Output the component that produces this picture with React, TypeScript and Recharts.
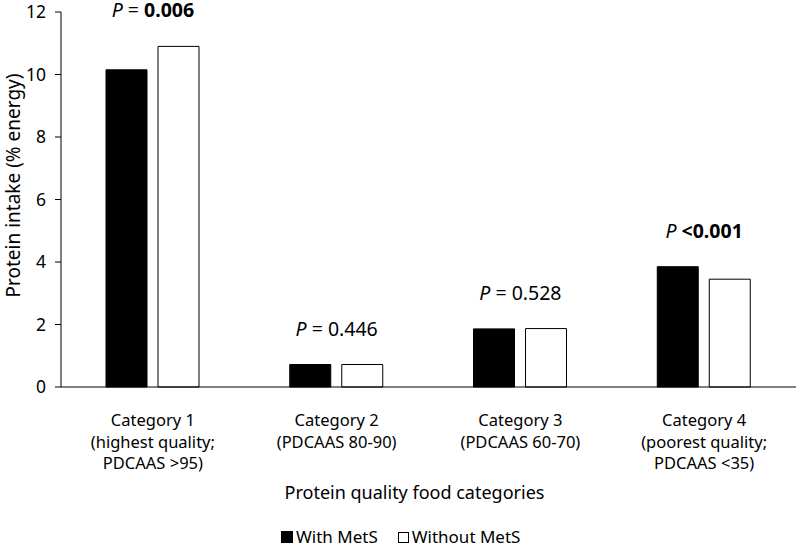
import React from "react";
import {
  Bar,
  BarChart,
  Legend,
  ReferenceDot,
  XAxis,
  YAxis,
} from "recharts";

const categories = ["Category 1", "Category 2", "Category 3", "Category 4"];
const categorySub = [
  ["(highest quality;", "PDCAAS >95)"],
  ["(PDCAAS 80-90)"],
  ["(PDCAAS 60-70)"],
  ["(poorest quality;", "PDCAAS <35)"],
];
const withMetS = [10.15, 0.72, 1.86, 3.85];
const withoutMetS = [10.9, 0.72, 1.87, 3.45];
const pSign = ["= ", "= ", "= ", ""];
const pValue = ["0.006", "0.446", "0.528", "<0.001"];
const pSignificant = [true, false, false, true];
const yTicks = [0, 2, 4, 6, 8, 10, 12];

const data = categories.map((name, i) => ({
  name,
  withMetS: withMetS[i],
  withoutMetS: withoutMetS[i],
}));

const FONT = "'Noto Sans', sans-serif";

const CategoryTick = (props: any) => {
  const { x, y, payload } = props;
  const i = payload.index;
  const lines = [categories[i], ...categorySub[i]];
  return (
    <text x={x} y={y + 31} textAnchor="middle" fontFamily={FONT} fontSize={16.5} fill="#000">
      {lines.map((l, k) => (
        <tspan key={k} x={x} dy={k === 0 ? 0 : 21.5}>
          {l}
        </tspan>
      ))}
    </text>
  );
};

const PLabel = (i: number) => (props: any) => {
  const { viewBox } = props;
  const cx = viewBox.x + (viewBox.width || 0) / 2;
  const cy = viewBox.y;
  return (
    <text x={cx} y={cy - 29} textAnchor="middle" fontFamily={FONT} fontSize={19.5} fill="#000">
      <tspan fontStyle="italic">P</tspan>
      <tspan>{" " + pSign[i]}</tspan>
      <tspan fontWeight={pSignificant[i] ? 700 : 400}>{pValue[i]}</tspan>
    </text>
  );
};

const LegendContent = () => (
  <div
    style={{
      display: "flex",
      alignItems: "center",
      fontFamily: FONT,
      fontSize: 17,
      lineHeight: "16px",
      color: "#000",
      paddingLeft: 281,
    }}
  >
    <span style={{ display: "inline-block", width: 10, height: 10, background: "#000", border: "1px solid #000", marginRight: 3 }} />
    <span style={{ marginRight: 20 }}>With MetS</span>
    <span style={{ display: "inline-block", width: 9, height: 9, background: "#fff", border: "1px solid #000", marginRight: 3 }} />
    <span>Without MetS</span>
  </div>
);

export default function App() {
  return (
    <div style={{ position: "absolute", left: 0, top: 0, background: "#fff" }}>
      <BarChart
        width={797}
        height={545}
        data={data}
        margin={{ top: 12, right: 1, left: 0, bottom: 0 }}
        barGap={11}
      >
        <XAxis
          dataKey="name"
          height={158}
          axisLine={{ stroke: "#000" }}
          tickLine={false}
          tick={<CategoryTick />}
          interval={0}
          label={{
            content: (p: any) => {
              const vb = p.viewBox;
              return (
                <text
                  x={vb.x + vb.width / 2 - 14}
                  y={vb.y + 112}
                  textAnchor="middle"
                  fontFamily={FONT}
                  fontSize={18}
                  fill="#000"
                >
                  Protein quality food categories
                </text>
              );
            },
          }}
        />
        <YAxis
          width={61}
          domain={[0, 12]}
          ticks={yTicks}
          interval={0}
          axisLine={{ stroke: "#000" }}
          tickLine={{ stroke: "#000" }}
          tickSize={6}
          tickMargin={9}
          tick={{ fontFamily: FONT, fontSize: 17.5, fill: "#000" }}
          label={{
            content: (p: any) => {
              const vb = p.viewBox;
              const cx = vb.x + 13;
              const cy = vb.y + vb.height / 2 - 14;
              return (
                <text
                  transform={`translate(${cx},${cy}) rotate(-90)`}
                  textAnchor="middle"
                  dominantBaseline="central"
                  fontFamily={FONT}
                  fontSize={19}
                  fill="#000"
                >
                  Protein intake (% energy)
                </text>
              );
            },
          }}
        />
        <Legend
          verticalAlign="middle"
          align="center"
          content={<LegendContent />}
          wrapperStyle={{ top: 529, left: 0, width: 797 }}
        />
        <Bar
          dataKey="withMetS"
          name="With MetS"
          fill="#000"
          stroke="#000"
          barSize={41}
          isAnimationActive={false}
        />
        <Bar
          dataKey="withoutMetS"
          name="Without MetS"
          fill="#fff"
          stroke="#000"
          strokeWidth={1}
          barSize={41}
          isAnimationActive={false}
        />
        {categories.map((c, i) => (
          <ReferenceDot
            key={c}
            x={c}
            y={Math.max(withMetS[i], withoutMetS[i])}
            r={0}
            fill="none"
            stroke="none"
            ifOverflow="visible"
            label={PLabel(i)}
          />
        ))}
      </BarChart>
    </div>
  );
}
